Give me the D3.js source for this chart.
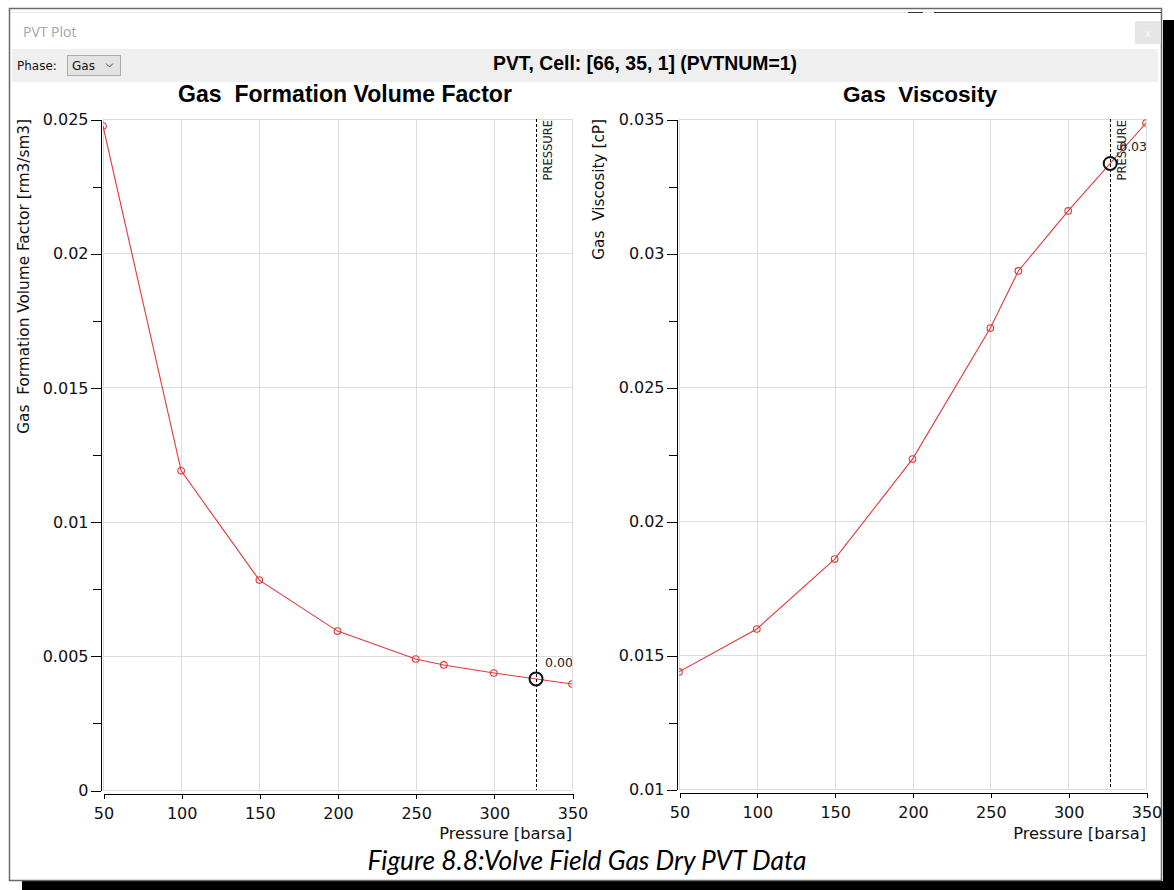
<!DOCTYPE html>
<html>
<head>
<meta charset="utf-8">
<title>PVT Plot</title>
<script src="https://cdn.jsdelivr.net/npm/d3@7"></script>
<style>
  html, body { margin: 0; padding: 0; background: #fff; }
  svg { display: block; }
  text { white-space: pre; }
</style>
</head>
<body>
<svg id="chart" width="1174" height="890"></svg>
<script>
// ---- PVT table (cell [66, 35, 1], PVTNUM=1) ----
const pressure      = [50, 100, 150, 200, 250, 268, 300, 350];            // barsa
const gasFVF        = [0.02474, 0.01189, 0.00782, 0.00592, 0.00488, 0.00466, 0.00436, 0.00395]; // rm3/sm3
const gasViscosity  = [0.01437, 0.01597, 0.01858, 0.02231, 0.02720, 0.02933, 0.03157, 0.03485]; // cP
const cursorPressure = 327;                                                // current cell pressure

// ---- axis ticks ----
const xTicks         = [50, 100, 150, 200, 250, 300, 350];
const fvfTicks       = [0, 0.005, 0.01, 0.015, 0.02, 0.025];
const fvfMinorTicks  = [0.0025, 0.0075, 0.0125, 0.0175, 0.0225];
const viscTicks      = [0.01, 0.015, 0.02, 0.025, 0.03, 0.035];
const viscMinorTicks = [0.0125, 0.0175, 0.0225, 0.0275, 0.0325];

const UI_FONT = "DejaVu Sans";
const RED = "#e2383a";

const svg = d3.select("#chart");

// shrink/grow a text's font size so that it spans the given width
function fitWidth(sel, width) {
  const len = sel.node().getComputedTextLength();
  const fs = parseFloat(sel.attr("font-size"));
  if (len > 0) sel.attr("font-size", (fs * width / len).toFixed(2));
  return sel;
}

// ---------- window frame ----------
svg.append("rect").attr("x", 1163).attr("y", 20).attr("width", 11).attr("height", 870).attr("fill", "#000");
svg.append("rect").attr("x", 22).attr("y", 881).attr("width", 1152).attr("height", 9).attr("fill", "#000");
svg.append("rect").attr("x", 9.5).attr("y", 8.5).attr("width", 1152).attr("height", 872)
  .attr("fill", "#fff").attr("stroke", "#6a6a6a").attr("stroke-width", 1.5);
svg.append("line").attr("x1", 12).attr("x2", 1158).attr("y1", 12.5).attr("y2", 12.5)
  .attr("stroke", "#e6e6e6");
svg.append("line").attr("x1", 908).attr("x2", 923).attr("y1", 12.5).attr("y2", 12.5).attr("stroke", "#333");
svg.append("line").attr("x1", 934).attr("x2", 1161).attr("y1", 12.5).attr("y2", 12.5).attr("stroke", "#333");

svg.append("text").attr("x", 23).attr("y", 37).attr("font-family", "Open Sans")
  .attr("font-size", 14).attr("fill", "#a6a6a6").text("PVT Plot");

// close button
svg.append("rect").attr("x", 1135).attr("y", 21).attr("width", 26).attr("height", 23).attr("fill", "#e6e6e6");
svg.append("text").attr("x", 1148).attr("y", 37).attr("text-anchor", "middle").attr("font-family", UI_FONT)
  .attr("font-size", 10).attr("fill", "#fafafa").text("x");

// toolbar band
svg.append("rect").attr("x", 12).attr("y", 49).attr("width", 1146).attr("height", 33).attr("fill", "#efefef");
svg.append("text").attr("x", 17).attr("y", 70).attr("font-family", UI_FONT)
  .attr("font-size", 12).attr("fill", "#111").text("Phase:");
svg.append("rect").attr("x", 67.5).attr("y", 55.5).attr("width", 53).attr("height", 20)
  .attr("fill", "#e3e3e3").attr("stroke", "#acacac");
svg.append("text").attr("x", 72).attr("y", 70).attr("font-family", UI_FONT)
  .attr("font-size", 12).attr("fill", "#111").text("Gas");
svg.append("path").attr("d", "M106,63.5 L109.5,67 L113,63.5").attr("fill", "none")
  .attr("stroke", "#444").attr("stroke-width", 1);

const header = svg.append("text").attr("x", 645).attr("y", 70).attr("text-anchor", "middle")
  .attr("font-family", "Liberation Sans").attr("font-weight", "bold").attr("font-size", 15)
  .attr("fill", "#000").text("PVT, Cell: [66, 35, 1] (PVTNUM=1)");
fitWidth(header, 304);

// ---------- chart panels ----------
const panels = [
  {
    id: "fvf", title: "Gas  Formation Volume Factor", yLabel: "Gas  Formation Volume Factor [rm3/sm3]",
    values: gasFVF, ticks: fvfTicks, minor: fvfMinorTicks,
    left: 103, right: 572, top: 119, bottom: 790, titleX: 345, titleW: 334, labelX: 29
  },
  {
    id: "visc", title: "Gas  Viscosity", yLabel: "Gas  Viscosity [cP]",
    values: gasViscosity, ticks: viscTicks, minor: viscMinorTicks,
    left: 679, right: 1146, top: 119, bottom: 789, titleX: 920, titleW: 154, labelX: 604
  }
];

function drawPanel(p) {
  const g = svg.append("g");
  const x = d3.scaleLinear().domain(d3.extent(xTicks)).range([p.left, p.right]);
  const y = d3.scaleLinear().domain(d3.extent(p.ticks)).range([p.bottom, p.top]);

  const clipId = "clip-" + p.id;
  svg.append("clipPath").attr("id", clipId).append("rect")
    .attr("x", p.left).attr("y", p.top - 1).attr("width", p.right - p.left).attr("height", p.bottom - p.top + 2);

  // grid
  const grid = g.append("g").attr("stroke", "#dcdcdc").attr("shape-rendering", "crispEdges");
  grid.selectAll("line.v").data(xTicks).join("line").attr("class", "v")
    .attr("x1", d => Math.round(x(d)) + 0.5).attr("x2", d => Math.round(x(d)) + 0.5)
    .attr("y1", p.top).attr("y2", p.bottom);
  grid.selectAll("line.h").data(p.ticks).join("line").attr("class", "h")
    .attr("y1", d => Math.round(y(d)) + 0.5).attr("y2", d => Math.round(y(d)) + 0.5)
    .attr("x1", p.left).attr("x2", p.right);

  // y axis (offset to the left of the plot)
  const yAxisG = g.append("g").attr("transform", `translate(${p.left - 2.5},0.5)`)
    .call(d3.axisLeft(y).tickValues(p.ticks).tickFormat(d => String(d))
      .tickSize(10).tickSizeOuter(0).tickPadding(2));
  g.append("g").attr("transform", `translate(${p.left - 2.5},0.5)`)
    .call(d3.axisLeft(y).tickValues(p.minor).tickFormat("").tickSize(8).tickSizeOuter(0))
    .call(a => a.select(".domain").remove());

  // x axis (offset below the plot)
  const xAxisG = g.append("g").attr("transform", `translate(0.5,${p.bottom + 3.5})`)
    .call(d3.axisBottom(x).tickValues(xTicks).tickSize(5).tickSizeOuter(0).tickPadding(9));

  g.selectAll(".domain, .tick line").attr("stroke", "#000").attr("shape-rendering", "crispEdges");
  [yAxisG, xAxisG].forEach(a => a.attr("font-family", UI_FONT).attr("font-size", 16));
  g.selectAll(".tick text").attr("fill", "#111");

  // axis titles
  const title = g.append("text").attr("x", p.titleX).attr("y", 102).attr("text-anchor", "middle")
    .attr("font-family", "Liberation Sans").attr("font-weight", "bold").attr("font-size", 19)
    .attr("fill", "#000").text(p.title);
  fitWidth(title, p.titleW);

  g.append("text").attr("transform", `translate(${p.labelX},${p.top}) rotate(-90)`)
    .attr("text-anchor", "end").attr("font-family", UI_FONT).attr("font-size", 15.3)
    .attr("fill", "#111").text(p.yLabel);

  g.append("text").attr("x", p.right).attr("y", 839).attr("text-anchor", "end")
    .attr("font-family", UI_FONT).attr("font-size", 16.3).attr("fill", "#111").text("Pressure [barsa]");

  // data series
  const pts = pressure.map((pr, i) => [pr, p.values[i]]);
  const plot = g.append("g").attr("clip-path", `url(#${clipId})`);
  plot.append("path").datum(pts)
    .attr("d", d3.line().x(d => x(d[0])).y(d => y(d[1])))
    .attr("fill", "none").attr("stroke", RED).attr("stroke-width", 1.1);
  plot.selectAll("circle.pt").data(pts).join("circle").attr("class", "pt")
    .attr("cx", d => x(d[0])).attr("cy", d => y(d[1])).attr("r", 3.3)
    .attr("fill", "none").attr("stroke", RED).attr("stroke-width", 1.1);

  // cursor at the current cell pressure
  const cx = x(cursorPressure);
  const i = d3.bisectRight(pressure, cursorPressure);
  const t = (cursorPressure - pressure[i - 1]) / (pressure[i] - pressure[i - 1]);
  const cursorValue = p.values[i - 1] + t * (p.values[i] - p.values[i - 1]);
  const cy = y(cursorValue);

  plot.append("line").attr("x1", Math.round(cx) + 0.5).attr("x2", Math.round(cx) + 0.5)
    .attr("y1", p.top).attr("y2", p.bottom)
    .attr("stroke", "#000").attr("stroke-dasharray", "3,2").attr("stroke-width", 1);
  plot.append("text").attr("transform", `translate(${cx + 16},${p.top + 1}) rotate(-90)`)
    .attr("text-anchor", "end").attr("font-family", UI_FONT).attr("font-size", 11.5)
    .attr("fill", "#222").text("PRESSURE");
  plot.append("text").attr("x", cx + 9).attr("y", cy - 12)
    .attr("font-family", UI_FONT).attr("font-size", 12.5).attr("fill", "#222")
    .text(d3.format(".4~r")(cursorValue));
  g.append("circle").attr("cx", cx).attr("cy", cy).attr("r", 6.5)
    .attr("fill", "none").attr("stroke", "#111").attr("stroke-width", 2);
}

panels.forEach(drawPanel);

// caption
const caption = svg.append("text").attr("x", 587).attr("y", 870).attr("text-anchor", "middle")
  .attr("font-family", "Lato").attr("font-style", "italic").attr("font-size", 24)
  .attr("fill", "#000").text("Figure 8.8:Volve Field Gas Dry PVT Data");
fitWidth(caption, 439);
</script>
</body>
</html>
